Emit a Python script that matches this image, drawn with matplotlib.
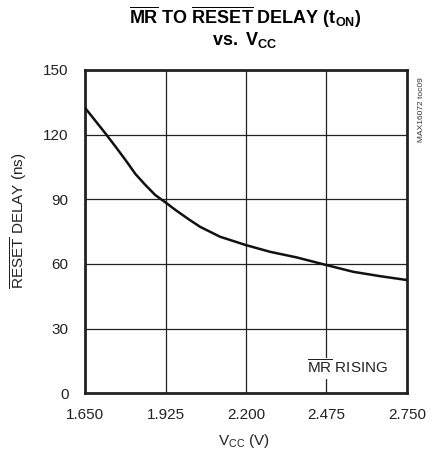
import numpy as np
import matplotlib
matplotlib.use("Agg")
import matplotlib.pyplot as plt

# Data
vcc = [1.651, 1.719, 1.754, 1.788, 1.822, 1.856, 1.890, 1.922, 1.959, 2.004,
       2.043, 2.111, 2.200, 2.282, 2.373, 2.476, 2.567, 2.658, 2.750]
delay = [132.2, 120.6, 114.4, 108.2, 101.7, 96.6, 91.9, 88.8, 85.0, 80.7,
         77.2, 72.6, 68.7, 65.6, 63.0, 59.4, 56.3, 54.3, 52.5]

x_ticks = [1.650, 1.925, 2.200, 2.475, 2.750]
x_tick_labels = ["1.650", "1.925", "2.200", "2.475", "2.750"]
y_ticks = [0, 30, 60, 90, 120, 150]

FONT = "Liberation Sans"
plt.rcParams["font.family"] = [FONT, "DejaVu Sans"]
plt.rcParams["mathtext.fontset"] = "custom"
plt.rcParams["mathtext.rm"] = FONT
plt.rcParams["mathtext.it"] = FONT
plt.rcParams["mathtext.bf"] = FONT + ":bold"

fig = plt.figure(figsize=(4.32, 4.54), dpi=100)
ax = fig.add_axes([0.197, 0.134, 0.745, 0.712])

ax.plot(vcc, delay, color="#111111", lw=1.8, zorder=3)

ax.set_xlim(1.650, 2.750)
ax.set_ylim(0, 150)
ax.set_xticks(x_ticks)
ax.set_xticklabels(x_tick_labels)
ax.set_yticks(y_ticks)
ax.tick_params(axis="x", length=0, labelsize=11, pad=11, colors="#222222")
ax.tick_params(axis="y", length=0, labelsize=11, pad=12, colors="#222222")
ax.grid(True, color="#222222", lw=0.9)
for s in ax.spines.values():
    s.set_linewidth(2)
    s.set_color("#222222")

fig.text(0.565, 0.029, r"V$_{\rm CC}$ (V)", ha="center", va="center",
         fontsize=11, color="#222222")
fig.text(0.044, 0.515, r"$\overline{\rm RESET}$ DELAY (ns)", ha="center", va="center",
         rotation=90, fontsize=11, color="#222222")

fig.text(0.567, 0.962, r"$\mathbf{\overline{MR}\ TO\ \overline{RESET}\ DELAY\ (t_{ON})}$",
         ha="center", va="center", fontsize=13)
fig.text(0.567, 0.912, r"$\mathbf{vs.\ V_{CC}}$", ha="center", va="center", fontsize=13)

fig.text(0.975, 0.758, "MAX16072 toc09", rotation=90, ha="center", va="center",
         fontsize=6, color="#333333")

ax.text(2.685, 11.6, r"$\overline{\rm MR}$ RISING", ha="right", va="center", fontsize=11,
        color="#222222", bbox=dict(facecolor="white", edgecolor="none", pad=1), zorder=4)

fig.savefig("out.png", dpi=100)
